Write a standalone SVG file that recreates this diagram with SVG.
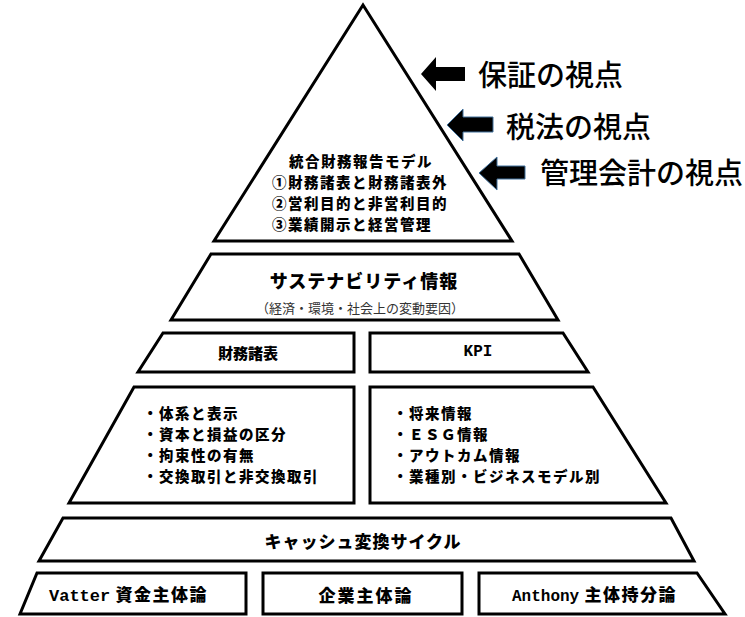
<svg xmlns="http://www.w3.org/2000/svg" width="745" height="617" viewBox="0 0 745 617">
<style>
.s{fill:#fff;stroke:#000;stroke-width:3;stroke-linejoin:miter}
text{font-family:"Noto Sans CJK JP","Noto Sans",sans-serif;fill:#000;dominant-baseline:central}
.b{font-weight:900;font-size:16px}
.l{font-weight:900;font-size:14.5px;letter-spacing:1.5px}
.c{text-anchor:middle}
.m{font-family:"Liberation Mono",monospace;font-weight:700;letter-spacing:0}
.a{dominant-baseline:alphabetic}
.big{font-size:29px;font-weight:500}
.arr{fill:#000}
.arrb{fill:#000;stroke:#41719C;stroke-width:1}
</style>
<rect width="745" height="617" fill="#fff"/>
<g id="apex">
<polygon class="s" points="363,5 512,241 214,241"/>
<text class="l c" x="361" y="160">統合財務報告モデル</text>
<text class="l" x="272" y="181">①財務諸表と財務諸表外</text>
<text class="l" x="272" y="202">②営利目的と非営利目的</text>
<text class="l" x="272" y="223">③業績開示と経営管理</text>
</g>
<g id="sustainability">
<polygon class="s" points="211,254 519,254 558,320 171,320"/>
<text class="b c" x="364" y="280" style="font-size:18px;letter-spacing:1px">サステナビリティ情報</text>
<text class="c" x="360" y="307" style="font-size:13px;fill:#333">（経済・環境・社会上の変動要因）</text>
</g>
<g id="fs">
<polygon class="s" points="163,333 354,333 354,372 138,372"/>
<text class="b c" x="248" y="352" style="font-size:15px">財務諸表</text>
</g>
<g id="kpi">
<polygon class="s" points="370,333 563,333 588,372 370,372"/>
<text class="b c m" x="478" y="352" style="font-size:16px">KPI</text>
</g>
<g id="fs-items">
<polygon class="s" points="134,387 354,387 354,503 69,503"/>
<text class="l" x="143" y="412">・体系と表示</text>
<text class="l" x="143" y="433">・資本と損益の区分</text>
<text class="l" x="143" y="454">・拘束性の有無</text>
<text class="l" x="143" y="475">・交換取引と非交換取引</text>
</g>
<g id="kpi-items">
<polygon class="s" points="370,387 593,387 666,503 370,503"/>
<text class="l" x="393" y="412">・将来情報</text>
<text class="l" x="393" y="433">・ＥＳＧ情報</text>
<text class="l" x="393" y="454">・アウトカム情報</text>
<text class="l" x="393" y="475">・業種別・ビジネスモデル別</text>
</g>
<g id="cash">
<polygon class="s" points="63,518 671,518 694,561 39,561"/>
<text class="b c" x="363" y="540" style="font-size:17px;letter-spacing:1px">キャッシュ変換サイクル</text>
</g>
<g id="vatter">
<polygon class="s" points="37,573 246,573 246,614 20,614"/>
<text class="b a" x="49" y="600.5" style="font-size:17px;letter-spacing:1.5px"><tspan class="m" style="font-size:17px">Vatter</tspan> 資金主体論</text>
</g>
<g id="entity">
<polygon class="s" points="263,573 462,573 462,614 263,614"/>
<text class="b c" x="366" y="594" style="font-size:17px;letter-spacing:2px">企業主体論</text>
</g>
<g id="anthony">
<polygon class="s" points="479,573 697,573 725,614 479,614"/>
<text class="b a" x="512" y="600.5" style="font-size:17px;letter-spacing:1.5px"><tspan class="m" style="font-size:16px">Anthony</tspan> 主体持分論</text>
</g>
<g id="connectors">
<polygon class="arr" points="421,74 436,57 436,67 465,67 465,81 436,81 436,91"/>
<polygon class="arrb" points="447,125 463,109 463,117 493,117 493,132 463,132 463,141"/>
<polygon class="arrb" points="479,173 497,157 497,166 525,166 525,179 497,179 497,190"/>
</g>
<g id="labels">
<text class="big" x="478" y="73">保証の視点</text>
<text class="big" x="506" y="125">税法の視点</text>
<text class="big" x="540" y="171">管理会計の視点</text>
</g>
</svg>
